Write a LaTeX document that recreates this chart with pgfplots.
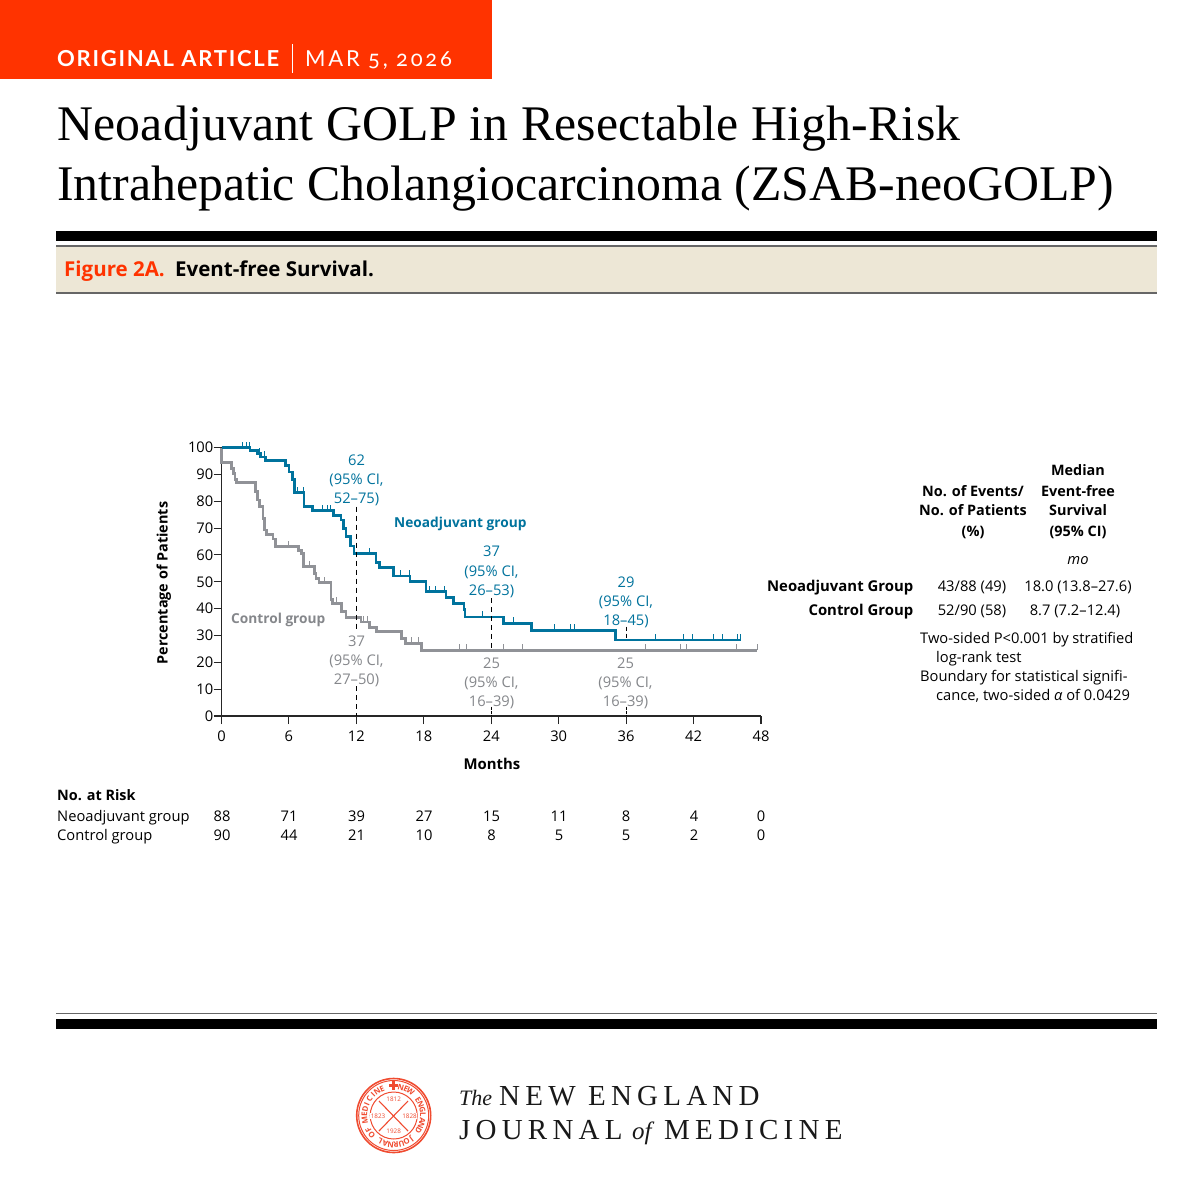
\documentclass[border=0pt]{standalone}
\usepackage{fontspec}
\usepackage{pgfplots}
\pgfplotsset{compat=1.18}
\setmainfont{Open Sans}
\newfontfamily\serifA[LetterSpace=0.4]{Liberation Serif}
\newfontfamily\serifB{Liberation Serif}
\newfontfamily\wordmark[LetterSpace=18]{Liberation Serif}
\newfontfamily\wordit{Liberation Serif}
\newfontfamily\banner[LetterSpace=8]{Lato}
\newfontfamily\bannerL[LetterSpace=12.5,Numbers=OldStyle]{Lato}
\definecolor{nejmred}{HTML}{FF3300}
\definecolor{band}{HTML}{EDE7D6}
\definecolor{rulegray}{HTML}{666666}
\definecolor{neo}{HTML}{00739D}
\definecolor{ctrl}{HTML}{909297}
\definecolor{ctrltext}{HTML}{85878B}
\definecolor{seal}{HTML}{F04B30}
\newcommand{\sz}{\fontsize{14.7}{14.7}\selectfont}
\newcommand{\bz}{\fontsize{14.4}{14.4}\selectfont\bfseries}
\newcommand{\bg}{\fontsize{13.7}{13.7}\selectfont\bfseries}
\newcommand{\bt}{\fontsize{14.9}{14.9}\selectfont\bfseries}
\pgfdeclareplotmark{cens}{\pgfpathmoveto{\pgfqpoint{0pt}{0pt}}\pgfpathlineto{\pgfqpoint{0pt}{\pgfplotmarksize}}\pgfusepathqstroke}
\begin{document}
\begin{tikzpicture}[x=1pt,y=-1pt,t/.style={inner sep=0,anchor=base,font=\sz},
  l/.style={t,anchor=base west},r/.style={t,anchor=base east},
  b/.style={t,font=\bz},bl/.style={l,font=\bz},br/.style={r,font=\bt}]
\path[use as bounding box,fill=white] (0,0) rectangle (1200,1200);
% masthead
\fill[nejmred] (0,0) rectangle (492,79);
\node[l,text=white,font=\banner\fontsize{22}{22}\selectfont\bfseries] at (57,66) {ORIGINAL ARTICLE};
\fill[white] (291.5,44) rectangle (293,72.5);
\node[l,text=white,font=\bannerL\fontsize{22}{22}\selectfont] at (305,66) {MAR 5, 2026};
\node[l,font=\serifA\fontsize{49.8}{49.8}\selectfont] at (57,140) {Neoadjuvant GOLP in Resectable High-Risk};
\node[l,font=\serifB\fontsize{49.8}{49.8}\selectfont] at (57,200) {Intrahepatic Cholangiocarcinoma (ZSAB-neoGOLP)};
\fill[black] (56,231) rectangle (1157,241);
\fill[band] (56,247) rectangle (1157,292);
\fill[rulegray] (56,245) rectangle (1157,247);
\fill[rulegray] (56,292) rectangle (1157,294);
\node[l,font=\fontsize{20.5}{20.5}\selectfont\bfseries,text=nejmred] at (64,276) {Figure 2A.};
\node[l,font=\fontsize{20.5}{20.5}\selectfont\bfseries] at (175,276) {Event-free Survival.};
\fill[rulegray] (56,1012.5) rectangle (1157,1014);
\fill[black] (56,1019) rectangle (1157,1029);
% plot
\begin{axis}[
  at={(221.5pt,-716pt)},anchor=south west,
  scale only axis,width=539.5pt,height=268.5pt,
  xmin=0,xmax=48,ymin=0,ymax=100,clip=false,
  axis lines=left,axis line style={-,line width=1.3pt,black!85},
  tick align=outside,tick style={line width=1.1pt,black!85},
  major tick length=8pt,
  xtick={0,6,...,48},ytick={0,10,...,100},
  tick label style={font=\sz,inner sep=0pt},
  /pgf/number format/assume math mode=true,
  xticklabel style={anchor=base,yshift=-17pt},
  yticklabel style={anchor=east},
]
\addplot[const plot,ctrl,line width=2.7pt,line join=miter] coordinates {
 (0,100)(0,94.4)(0.9,92.2)(1.07,90.4)(1.2,88.1)(1.35,86.9)(3.04,83.5)(3.2,80.4)(3.4,78)(3.7,73.6)(3.83,69.3)
 (3.98,67.7)(4.57,65.9)(4.8,63.1)(6.83,61.6)(7.13,60.6)(7.3,55.6)(8.26,53.1)(8.41,51.3)(8.67,49.6)
 (9.74,43.4)(9.85,42)(10.7,38.9)(11.08,36.6)(12.4,35)(13.19,32.9)(13.78,31.4)(16,28.8)(16.4,27.1)(17.8,24.5)(47.65,24.5)};
\addplot[only marks,mark=cens,mark size=6pt,ctrl,mark options={line width=1pt}] coordinates {
 (6,63.1)(7.87,55.6)(9.2,49.6)(10.2,42)(12.6,35)(13,35)(16.9,27.1)(17.5,27.1)(21.16,24.5)(21.84,24.5)
 (25.13,24.5)(26.8,24.5)(37.7,24.5)(40.8,24.5)(41.38,24.5)(45.83,24.5)(47.65,24.5)};
\addplot[const plot,neo,line width=2.7pt,line join=miter] coordinates {
 (0,100)(2.54,98.8)(3.19,97.7)(3.48,96.5)(3.93,95.2)(5.71,93.2)(6,90.9)(6.3,88.1)(6.48,83.2)(7.34,77.9)(8.08,76.5)
 (9.98,74.6)(10.63,73)(10.86,69.9)(11.08,66.8)(11.5,63.3)(11.8,60.5)(13.75,57.1)(14.04,55.2)(15.29,52.1)(16.77,50)
 (18.2,46.3)(19.97,44.2)(20.62,42)(21.57,39.7)(21.66,36.9)(25.07,34.5)(27.55,31.9)(35.04,28.3)(46.2,28.3)};
\addplot[only marks,mark=cens,mark size=6pt,neo,mark options={line width=1pt}] coordinates {
 (1.9,100)(2.2,100)(2.45,100)(3.4,97.7)(3.85,96.5)(6.5,83.2)(6.8,83.2)(7.3,83.2)(8.97,76.5)(9.45,76.5)(9.7,76.5)
 (13.2,60.5)(15.97,52.1)(16.71,52.1)(18.55,46.3)(19.08,46.3)(19.8,46.3)(23.2,36.9)(26,34.5)(29.67,31.9)(31.07,31.9)(31.45,31.9)
 (38.57,28.3)(41.09,28.3)(41.92,28.3)(43.76,28.3)(44.59,28.3)(45.89,28.3)(46.2,28.3)};
% median guide lines
\addplot[black,line width=1pt,dash pattern=on 5pt off 4pt] coordinates {(12,78)(12,32)};
\addplot[black,line width=1pt,dash pattern=on 5pt off 4pt] coordinates {(12,11)(12,0)};
\addplot[black,line width=1pt,dash pattern=on 5pt off 4pt] coordinates {(24,44)(24,24.5)};
\addplot[black,line width=1pt,dash pattern=on 3pt off 1pt] coordinates {(24,3.5)(24,0)};
\addplot[black,line width=1pt,dash pattern=on 4pt off 3pt] coordinates {(36,33.3)(36,28.3)};
\addplot[black,line width=1pt,dash pattern=on 3pt off 1pt] coordinates {(36,3.5)(36,0)};
\end{axis}
% annotations
\begin{scope}[every node/.append style={text=neo}]
\node[t] at (356.5,465) {62};\node[t] at (356.5,484) {(95\% CI,};\node[t] at (356.5,503) {52–75)};
\node[t] at (491.5,556) {37};\node[t] at (491.5,576) {(95\% CI,};\node[t] at (491.5,595) {26–53)};
\node[t] at (626,587) {29};\node[t] at (626,606) {(95\% CI,};\node[t] at (626,625) {18–45)};
\node[l,font=\bg] at (394,527) {Neoadjuvant group};
\end{scope}
\begin{scope}[every node/.append style={text=ctrltext}]
\node[t] at (356.5,646) {37};\node[t] at (356.5,665) {(95\% CI,};\node[t] at (356.5,684) {27–50)};
\node[t] at (491.5,668) {25};\node[t] at (491.5,687) {(95\% CI,};\node[t] at (491.5,706) {16–39)};
\node[t] at (625.5,668) {25};\node[t] at (625.5,687) {(95\% CI,};\node[t] at (625.5,706) {16–39)};
\node[l,font=\bg] at (231,623) {Control group};
\end{scope}
\node[b,rotate=90] at (167.5,583) {Percentage of Patients};
\node[t,font=\bt] at (492,769) {Months};
% number at risk
\node[bl] at (57,800) {No. at Risk};
\node[l] at (57,821) {Neoadjuvant group};
\node[l] at (57,840) {Control group};
\foreach \x/\a/\b in {222/88/90,289/71/44,356.5/39/21,424/27/10,491.5/15/8,559/11/5,626/8/5,694/4/2,761/0/0}{
  \node[t] at (\x,821) {\a};\node[t] at (\x,840) {\b};}
% side table
\node[b] at (973,496) {No. of Events/};\node[b] at (973,515) {No. of Patients};\node[b] at (973,536) {(\%)};
\node[b] at (1078,475) {Median};\node[b] at (1078,496) {Event-free};\node[b] at (1078,515) {Survival};\node[b] at (1078,536) {(95\% CI)};
\node[br] at (913.5,591) {Neoadjuvant Group};\node[br] at (913.5,615) {Control Group};
\node[t,font=\sz\itshape] at (1078,564) {mo};
\node[t] at (972,591) {43/88 (49)};\node[t] at (1078,591) {18.0 (13.8–27.6)};
\node[t] at (972,615) {52/90 (58)};\node[t] at (1075,615) {8.7 (7.2–12.4)};
\node[l] at (920,643) {Two-sided P<0.001 by stratified};
\node[l] at (936,662) {log-rank test};
\node[l] at (920,681) {Boundary for statistical signifi-};
\node[l] at (936,700) {cance, two-sided \textit{α} of 0.0429};
% journal seal
\begin{scope}[seal]
\draw[line width=1.6pt] (393.7,1115.5) circle (37);
\draw[line width=1pt] (393.7,1115.5) circle (35);
\draw[line width=1pt] (393.7,1115.5) circle (23.5);
\foreach \ch [count=\i] in {N,E,W,{},E,N,G,L,A,N,D,{},J,O,U,R,N,A,L,{},O,F,{},M,E,D,I,C,I,N,E}{
  \pgfmathsetmacro{\ang}{76-(\i-1)*10.75}
  \node[inner sep=0,text=seal,rotate=\ang-90,font=\fontsize{7.8}{7.8}\selectfont\bfseries]
    at ({393.7+29.2*cos(\ang)},{1115.5-29.2*sin(\ang)}) {\ch};}
\fill (392.2,1081) rectangle (395.2,1090);\fill (389.2,1084) rectangle (398.2,1087);
\draw[line width=1.1pt] (379,1131) -- (408,1101);
\draw[line width=1.1pt] (408,1131) -- (379,1101);
\foreach \p/\s in {{393.7,1099.5}/1812,{378,1116}/1823,{409.5,1116}/1828,{393.7,1131}/1928}
  \node[inner sep=0.3pt,text=seal,fill=white,font=\fontsize{6.3}{6.3}\selectfont] at (\p) {\s};
\end{scope}
% journal name
\node[l,font=\wordit\fontsize{22}{22}\selectfont\itshape,text=black!90] at (459,1105) {The};
\node[l,font=\wordmark\fontsize{29}{29}\selectfont,text=black!90] at (499,1105) {NEW ENGLAND};
\node[l,font=\wordmark\fontsize{29}{29}\selectfont,text=black!90] at (459,1139) {JOURNAL};
\node[l,font=\wordit\fontsize{25}{25}\selectfont\itshape,text=black!90] at (632,1139) {of};
\node[l,font=\wordmark\fontsize{29}{29}\selectfont,text=black!90] at (664,1139) {MEDICINE};
\end{tikzpicture}
\end{document}
